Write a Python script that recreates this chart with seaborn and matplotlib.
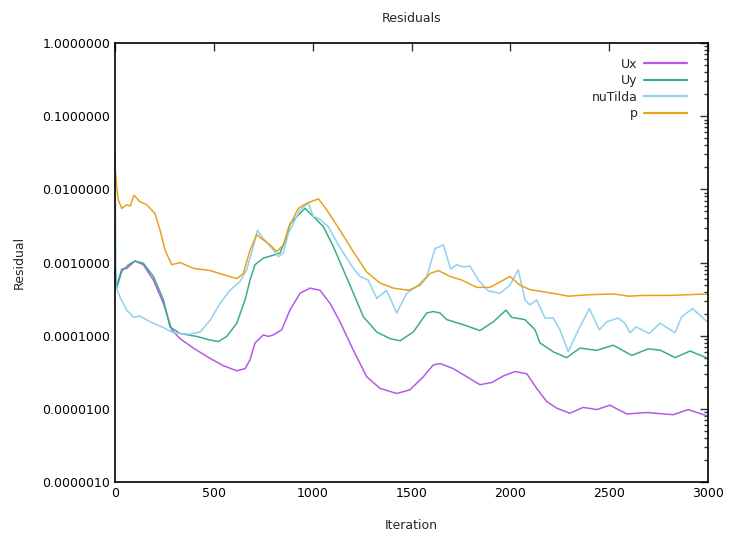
import matplotlib
matplotlib.use('Agg')
import matplotlib.pyplot as plt
import matplotlib.ticker as mticker
import seaborn as sns
import numpy as np
import pandas as pd

# values (iteration, log10 of residual)
ux_iter = [0, 5, 34, 59, 101, 143, 194, 245, 287, 329, 396, 481, 548, 616, 658, 683, 708, 750, 776, 801,
           843, 885, 936, 986, 1037, 1088, 1138, 1206, 1273, 1340, 1425, 1492, 1560, 1610, 1644, 1711, 1779,
           1846, 1906, 1965, 2024, 2083, 2133, 2184, 2234, 2301, 2369, 2437, 2504, 2589, 2690, 2824, 2900, 3000]
ux_log = [-3.0, -3.35, -3.09, -3.08, -2.98, -3.03, -3.24, -3.56, -3.92, -4.04, -4.17, -4.31, -4.41, -4.48,
          -4.45, -4.33, -4.10, -3.99, -4.01, -3.99, -3.92, -3.65, -3.42, -3.35, -3.38, -3.56, -3.81, -4.20,
          -4.56, -4.72, -4.79, -4.74, -4.56, -4.40, -4.38, -4.45, -4.56, -4.67, -4.64, -4.55, -4.49, -4.52,
          -4.72, -4.90, -4.99, -5.06, -4.98, -5.01, -4.95, -5.07, -5.05, -5.08, -5.01, -5.10]

uy_iter = [0, 8, 34, 68, 101, 143, 194, 245, 278, 329, 413, 481, 523, 565, 616, 658, 683, 708, 750, 801,
           835, 868, 885, 961, 1003, 1054, 1104, 1155, 1206, 1256, 1324, 1391, 1442, 1509, 1577, 1610, 1644,
           1678, 1762, 1846, 1914, 1978, 2007, 2074, 2125, 2150, 2217, 2285, 2352, 2437, 2521, 2614, 2698,
           2760, 2833, 2909, 3000]
uy_log = [-3.0, -3.35, -3.12, -3.03, -2.98, -3.01, -3.19, -3.51, -3.88, -3.97, -4.01, -4.06, -4.08, -4.01,
          -3.83, -3.51, -3.24, -3.03, -2.94, -2.90, -2.87, -2.65, -2.47, -2.26, -2.37, -2.51, -2.78, -3.10,
          -3.42, -3.74, -3.95, -4.04, -4.07, -3.95, -3.69, -3.67, -3.69, -3.78, -3.85, -3.93, -3.81, -3.65,
          -3.75, -3.78, -3.92, -4.10, -4.22, -4.30, -4.17, -4.20, -4.13, -4.27, -4.18, -4.20, -4.30, -4.21,
          -4.31]

nu_iter = [0, 5, 25, 59, 93, 126, 177, 245, 295, 379, 430, 481, 531, 582, 632, 666, 700, 720, 750, 801,
           826, 852, 877, 936, 978, 1003, 1037, 1079, 1130, 1172, 1206, 1239, 1281, 1324, 1374, 1425, 1476,
           1526, 1577, 1619, 1661, 1698, 1728, 1762, 1796, 1838, 1889, 1948, 1998, 2040, 2074, 2099, 2133,
           2175, 2217, 2251, 2293, 2344, 2400, 2450, 2487, 2546, 2580, 2605, 2636, 2703, 2757, 2833, 2867,
           2922, 3000]
nu_log = [-1.5, -3.33, -3.47, -3.65, -3.75, -3.73, -3.81, -3.89, -3.96, -3.98, -3.95, -3.79, -3.56, -3.38,
          -3.26, -3.10, -2.78, -2.56, -2.67, -2.83, -2.92, -2.87, -2.60, -2.28, -2.19, -2.37, -2.41, -2.51,
          -2.76, -2.94, -3.08, -3.19, -3.24, -3.49, -3.38, -3.69, -3.42, -3.33, -3.19, -2.81, -2.76, -3.09,
          -3.03, -3.06, -3.05, -3.24, -3.39, -3.42, -3.31, -3.10, -3.51, -3.58, -3.51, -3.76, -3.76, -3.92,
          -4.22, -3.92, -3.63, -3.92, -3.81, -3.76, -3.83, -3.96, -3.88, -3.97, -3.83, -3.96, -3.74, -3.63,
          -3.82]

p_iter = [0, 8, 17, 34, 59, 76, 96, 126, 160, 202, 228, 253, 287, 329, 396, 481, 565, 616, 649, 683, 717,
          750, 784, 818, 852, 877, 927, 970, 1029, 1071, 1138, 1205, 1273, 1340, 1408, 1484, 1543, 1594, 1636,
          1695, 1754, 1830, 1897, 1965, 1998, 2049, 2099, 2167, 2234, 2293, 2400, 2521, 2600, 2672, 2800,
          2900, 3000]
p_log = [-1.69, -1.95, -2.15, -2.26, -2.21, -2.23, -2.08, -2.17, -2.21, -2.33, -2.56, -2.83, -3.03, -3.00,
         -3.08, -3.11, -3.18, -3.22, -3.15, -2.83, -2.62, -2.69, -2.76, -2.85, -2.76, -2.53, -2.26, -2.19,
         -2.13, -2.28, -2.56, -2.85, -3.13, -3.28, -3.35, -3.38, -3.31, -3.15, -3.11, -3.19, -3.24, -3.34,
         -3.34, -3.24, -3.19, -3.31, -3.37, -3.40, -3.43, -3.46, -3.44, -3.43, -3.46, -3.45, -3.45, -3.44,
         -3.43]

names = ['Ux', 'Uy', 'nuTilda', 'p']
colors = ['#b658ec', '#3aae86', '#92d0f0', '#e8a21c']
y_ticks = [1e-6, 1e-5, 1e-4, 1e-3, 1e-2, 1e-1, 1.0]


def to_frame(iters, logs, name):
    return pd.DataFrame({'Iteration': iters, 'Residual': 10.0 ** np.array(logs), 'field': name})


df = pd.concat([to_frame(ux_iter, ux_log, 'Ux'),
                to_frame(uy_iter, uy_log, 'Uy'),
                to_frame(nu_iter, nu_log, 'nuTilda'),
                to_frame(p_iter, p_log, 'p')], ignore_index=True)

sns.set_style('white')
plt.rcParams['font.family'] = ['DejaVu Sans']

fig = plt.figure(figsize=(7.29, 5.36), dpi=100)
ax = fig.add_axes([0.1578, 0.1007, 0.8134, 0.8191])

sns.lineplot(data=df, x='Iteration', y='Residual', hue='field', hue_order=names,
             palette=dict(zip(names, colors)), sort=False, estimator=None, linewidth=1.1, ax=ax)

ax.set_yscale('log')
ax.set_xlim(0, 3000)
ax.set_ylim(1e-6, 1)
ax.xaxis.set_major_locator(mticker.MultipleLocator(500))
ax.yaxis.set_major_locator(mticker.FixedLocator(y_ticks))
ax.yaxis.set_minor_locator(mticker.LogLocator(base=10, subs=np.arange(2, 10), numticks=20))
ax.yaxis.set_major_formatter(mticker.FuncFormatter(lambda v, pos: '%.7f' % v))
ax.yaxis.set_minor_formatter(mticker.NullFormatter())

ax.tick_params(which='both', direction='in', top=True, right=True, colors='#333333',
               labelcolor='black', labelsize=9)
ax.tick_params(which='major', length=6, width=1)
ax.tick_params(which='minor', length=3, width=1)
ax.tick_params(axis='x', which='minor', top=False, bottom=False)
for s in ax.spines.values():
    s.set_color('black')
    s.set_linewidth(1.2)

ax.set_xlabel('Iteration', fontsize=9, labelpad=14)
ax.set_ylabel('Residual', fontsize=9, labelpad=12)
ax.set_title('Residuals', fontsize=9, pad=15)

leg = ax.legend(loc='upper right', frameon=False, markerfirst=False, fontsize=9,
                handlelength=3.4, handletextpad=0.5, labelspacing=0.28,
                borderaxespad=0.6, bbox_to_anchor=(0.985, 0.995))
for line in leg.get_lines():
    line.set_linewidth(1.6)

fig.savefig('out.png', dpi=100)
